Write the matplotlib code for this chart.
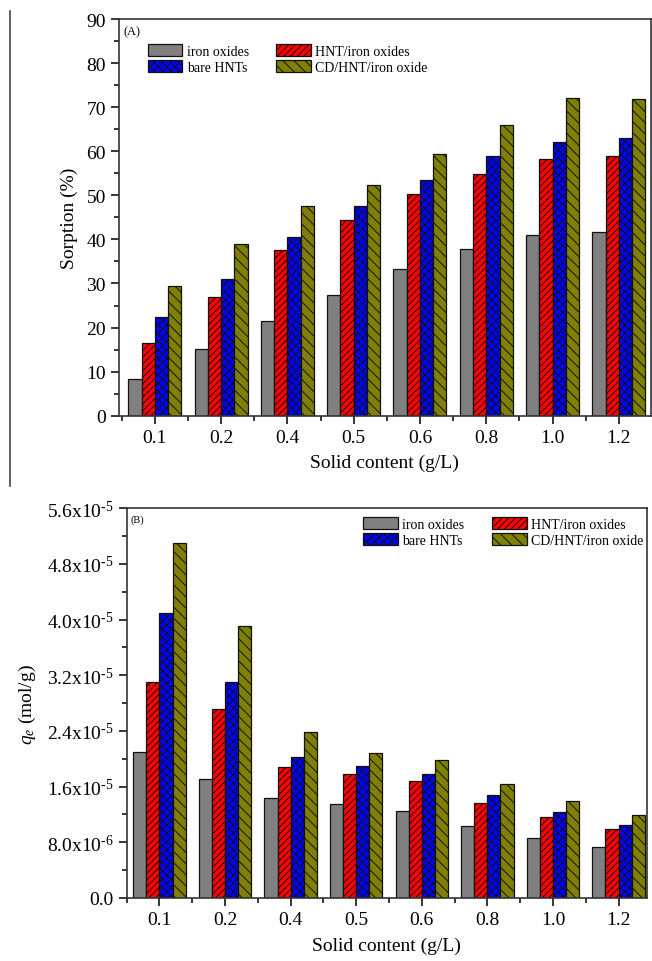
import matplotlib.pyplot as plt
import numpy as np
from matplotlib.lines import Line2D
from matplotlib.ticker import FixedLocator, MultipleLocator

plt.rcParams['font.family'] = ['Liberation Serif', 'DejaVu Serif']
plt.rcParams['mathtext.fontset'] = 'custom'
plt.rcParams['mathtext.rm'] = 'Liberation Serif'
plt.rcParams['mathtext.it'] = 'Liberation Serif:italic'
plt.rcParams['hatch.linewidth'] = 0.7

# data
solid = ["0.1", "0.2", "0.4", "0.5", "0.6", "0.8", "1.0", "1.2"]
series = ["iron oxides", "HNT/iron oxides", "bare HNTs", "CD/HNT/iron oxide"]

sorption_iron = [8.4, 15.1, 21.5, 27.4, 33.4, 37.8, 41.0, 41.8]
sorption_hnt_iron = [16.4, 27.0, 37.6, 44.4, 50.4, 54.8, 58.2, 59.0]
sorption_bare = [22.4, 31.0, 40.6, 47.5, 53.5, 59.0, 62.2, 63.0]
sorption_cd = [29.4, 39.0, 47.6, 52.4, 59.5, 65.9, 72.2, 71.9]

qe_iron = [21.0e-6, 17.1e-6, 14.3e-6, 13.5e-6, 12.5e-6, 10.4e-6, 8.6e-6, 7.3e-6]
qe_hnt_iron = [31.0e-6, 27.2e-6, 18.8e-6, 17.8e-6, 16.8e-6, 13.7e-6, 11.6e-6, 9.9e-6]
qe_bare = [41.0e-6, 31.1e-6, 20.3e-6, 19.0e-6, 17.8e-6, 14.8e-6, 12.4e-6, 10.5e-6]
qe_cd = [51.0e-6, 39.1e-6, 23.9e-6, 20.9e-6, 19.8e-6, 16.4e-6, 14.0e-6, 11.9e-6]

qe_ticks = [0.0, 8.0e-6, 1.6e-5, 2.4e-5, 3.2e-5, 4.0e-5, 4.8e-5, 5.6e-5]
qe_ticklabels = ["0.0", r"8.0x10$^{\text{-6}}$", r"1.6x10$^{\text{-5}}$", r"2.4x10$^{\text{-5}}$",
                 r"3.2x10$^{\text{-5}}$", r"4.0x10$^{\text{-5}}$", r"4.8x10$^{\text{-5}}$",
                 r"5.6x10$^{\text{-5}}$"]

colors = ["#808080", "#ff0000", "#0000ff", "#808000"]
hatches = [None, "/////", "xxxx", "\\\\\\"]

fig = plt.figure(figsize=(6.52, 9.62), dpi=100)
axA = fig.add_axes([0.1825, 0.567, 0.8155, 0.4118])
axB = fig.add_axes([0.1943, 0.0655, 0.7976, 0.4051])

x = np.arange(len(solid))
w = 0.2


def draw(ax, data):
    bars = []
    for i, vals in enumerate(data):
        b = ax.bar(x + (i - 1.5) * w, vals, w, color=colors[i], hatch=hatches[i],
                   edgecolor="#111111", linewidth=0.9, label=series[i], zorder=2)
        bars.append(b)
    ax.set_xticks(x)
    ax.set_xticklabels(solid, fontsize=14)
    ax.xaxis.set_minor_locator(FixedLocator(np.arange(-0.5, len(solid), 1.0)))
    ax.tick_params(axis="both", which="major", direction="out", length=6, width=1.1,
                   top=False, right=False, labelsize=14)
    ax.tick_params(axis="both", which="minor", direction="out", length=3.5, width=1.1,
                   top=False, right=False)
    for s in ax.spines.values():
        s.set_linewidth(1.2)
        s.set_color("#333333")
    ax.set_xlabel("Solid content (g/L)", fontsize=14, labelpad=6)
    # legend order: column 1 gray/blue, column 2 red/olive
    return [bars[0], bars[2], bars[1], bars[3]]


hA = draw(axA, [sorption_iron, sorption_hnt_iron, sorption_bare, sorption_cd])
axA.set_xlim(-0.54, 7.48)
axA.set_ylim(0, 90)
axA.yaxis.set_major_locator(MultipleLocator(10))
axA.yaxis.set_minor_locator(MultipleLocator(5))
axA.set_ylabel("Sorption (%)", fontsize=14, labelpad=6)
axA.text(0.008, 0.985, "(A)", transform=axA.transAxes, fontsize=9, va="top", ha="left")
axA.legend(hA, [h.get_label() for h in hA], ncol=2, loc="upper left",
           bbox_to_anchor=(0.054, 0.938), frameon=False, fontsize=10,
           handlelength=2.5, handleheight=0.95, handletextpad=0.3,
           columnspacing=2.0, labelspacing=0.2, borderpad=0, borderaxespad=0)

hB = draw(axB, [qe_iron, qe_hnt_iron, qe_bare, qe_cd])
axB.set_xlim(-0.5, 7.43)
axB.set_ylim(0, 5.6e-5)
axB.yaxis.set_major_locator(FixedLocator(qe_ticks))
axB.set_yticklabels(qe_ticklabels)
axB.yaxis.set_minor_locator(MultipleLocator(4.0e-6))
axB.set_ylabel(r"$q_e$ (mol/g)", fontsize=14, labelpad=6)
axB.text(0.008, 0.985, "(B)", transform=axB.transAxes, fontsize=7.5, va="top", ha="left")
axB.legend(hB, [h.get_label() for h in hB], ncol=2, loc="upper right",
           bbox_to_anchor=(0.993, 0.978), frameon=False, fontsize=10,
           handlelength=2.5, handleheight=0.95, handletextpad=0.3,
           columnspacing=2.0, labelspacing=0.2, borderpad=0, borderaxespad=0)

# thin border line down the left of the upper panel
fig.add_artist(Line2D([10 / 652, 10 / 652], [1 - 12 / 962, 1 - 487 / 962],
                      transform=fig.transFigure, color="#444444", linewidth=1.2))

fig.savefig("out.png", dpi=100)
